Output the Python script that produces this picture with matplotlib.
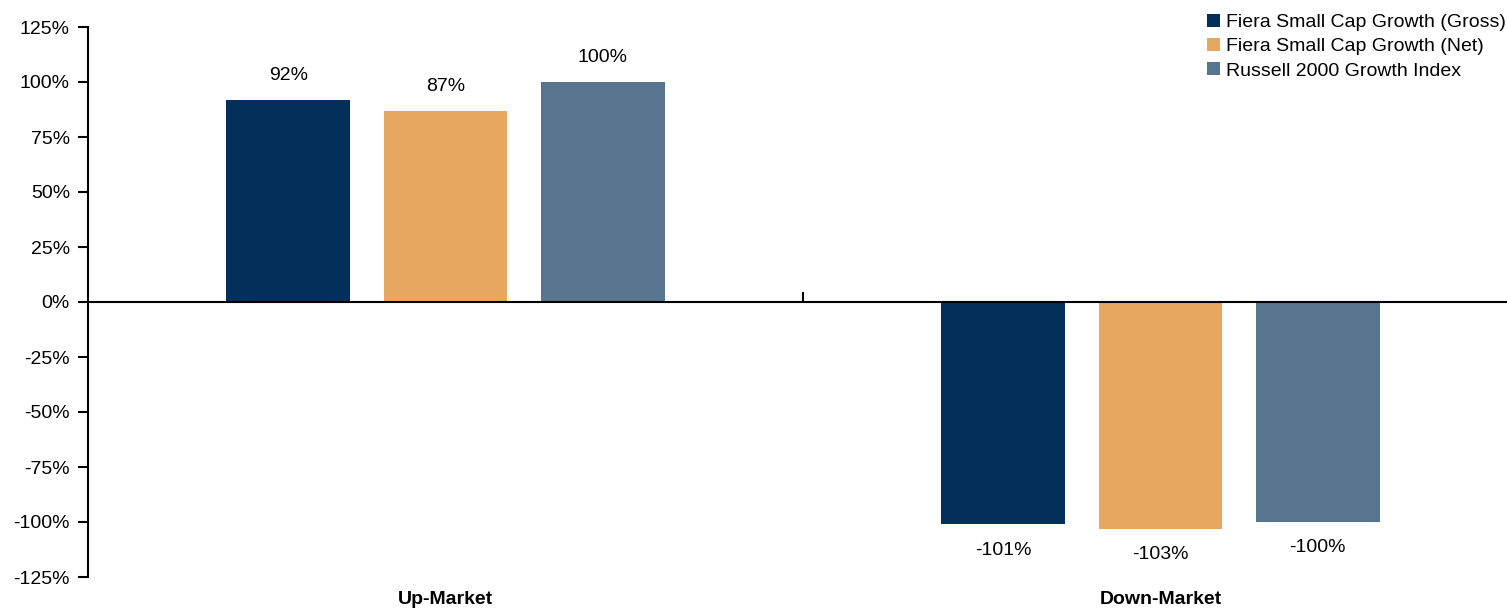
import numpy as np
import matplotlib.pyplot as plt
from matplotlib.patches import Patch
from matplotlib.transforms import offset_copy

plt.rcParams['font.family'] = ['Liberation Sans', 'DejaVu Sans']

categories = ['Up-Market', 'Down-Market']
series = ['Fiera Small Cap Growth (Gross)', 'Fiera Small Cap Growth (Net)',
          'Russell 2000 Growth Index']
values = [
    [92, -101],
    [87, -103],
    [100, -100],
]
colors = ['#03305A', '#E6A75E', '#587590']
y_ticks = [-125, -100, -75, -50, -25, 0, 25, 50, 75, 100, 125]


def plot_capture(cats, names, vals):
    fig = plt.figure(figsize=(15.07, 6.10), dpi=100)
    ax = fig.add_axes([88 / 1507, 1 - 577 / 610, (1518 - 88) / 1507, 550 / 610])
    x = np.arange(len(cats))
    width = 0.173
    step = 0.22

    for i, (name, v) in enumerate(zip(names, vals)):
        pos = x + (i - 1) * step
        ax.bar(pos, v, width, color=colors[i], label=name, zorder=2)
        for px, val in zip(pos, v):
            off = 24 if val >= 0 else -26
            ax.annotate('%d%%' % val, xy=(px, val), xytext=(0, off),
                        textcoords='offset pixels', ha='center', va='center',
                        fontsize=14)

    ax.set_xlim(-0.5, 1.5)
    ax.set_ylim(-125, 125)
    ax.set_yticks(y_ticks)
    ax.set_yticklabels(['%d%%' % t for t in y_ticks], fontsize=14)
    ax.tick_params(axis='y', direction='out', length=7, width=1.5, pad=6)

    # zero line acts as the x axis
    for s in ['top', 'right']:
        ax.spines[s].set_visible(False)
    ax.spines['left'].set_linewidth(1.5)
    ax.spines['bottom'].set_position(('data', 0))
    ax.spines['bottom'].set_linewidth(1.5)
    ax.spines['bottom'].set_zorder(3)
    ax.set_xticks([0.5])
    ax.set_xticklabels([''])
    ax.tick_params(axis='x', direction='in', length=7, width=1.5)

    for i, c in enumerate(cats):
        ax.annotate(c, xy=(i, 0), xycoords=('data', 'axes fraction'),
                    xytext=(0, -22), textcoords='offset pixels',
                    ha='center', va='center', fontsize=14, fontweight='bold')

    handles = [Patch(facecolor=colors[i], label=names[i]) for i in range(len(names))]
    fig.legend(handles=handles, loc='upper left',
               bbox_to_anchor=(1207 / 1507, 1 - 14 / 610), frameon=False,
               fontsize=14, handlelength=0.65, handleheight=0.65,
               handletextpad=0.35, labelspacing=0.35, borderpad=0,
               borderaxespad=0)

    fig.savefig('out.png', dpi=100)


if __name__ == "__main__":
    plot_capture(categories, series, values)
